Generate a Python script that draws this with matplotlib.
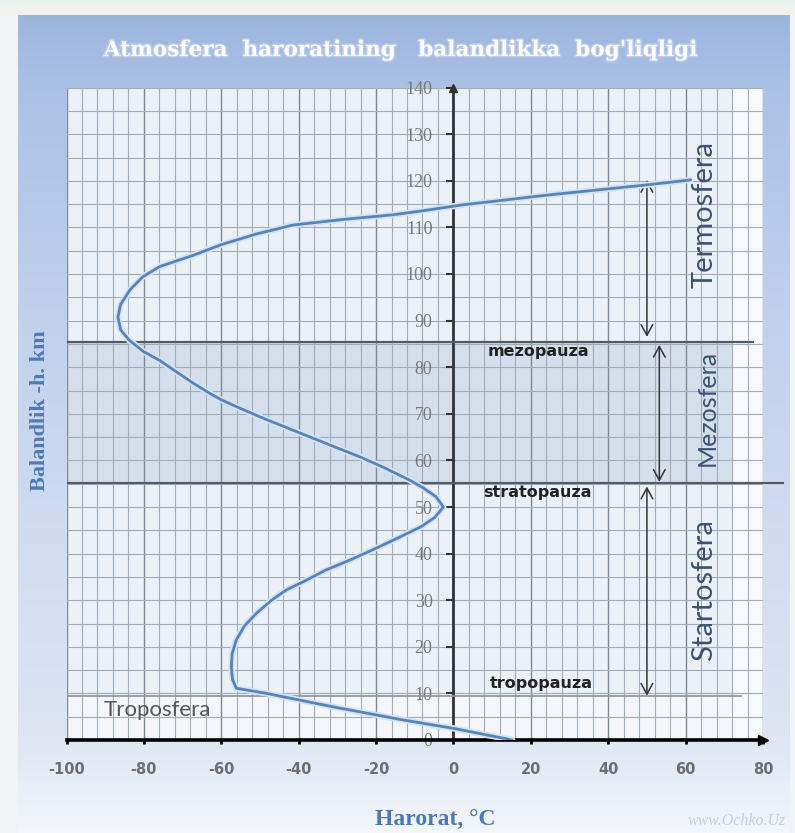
import numpy as np
import matplotlib.pyplot as plt
import matplotlib.patheffects as pe
from matplotlib.colors import LinearSegmentedColormap

plt.rcParams["axes.unicode_minus"] = False

# temperature (C) vs altitude (km)
altitude = [0, 2.5, 4.3, 7.1, 10, 11.1, 13, 15.7, 18.5, 21.5, 24.5, 27.2, 30, 32.2,
            34.3, 36.5, 38.6, 40.8, 43.5, 45.8, 47.8, 50, 52.2, 54.2, 55.8, 58.4,
            60.7, 62.9, 65, 67.2, 69, 71.2, 73, 74.4, 76.6, 79, 81.5, 83.3, 85.8,
            88, 90.8, 93.5, 96.6, 99.4, 101.6, 104, 106.3, 108.6, 110.5, 111.7,
            112.7, 113.5, 114.8, 117, 119.1, 120.2]
temperature = [15.2, 0, -13, -31, -48.3, -56.1, -57.1, -57.4, -57.2, -56.1, -54,
               -50.9, -47, -43.2, -38, -32.9, -26.8, -20.9, -14, -8.3, -4.8, -2.6,
               -4.5, -8, -11.4, -17.8, -24, -30.7, -37, -43.6, -49, -55.2, -60,
               -63, -67.3, -71.6, -76, -80, -83.8, -86, -86.7, -86, -83.6, -80.3,
               -75.9, -67.3, -60, -50.9, -41.5, -28.6, -15.7, -8.5, 2, 25, 49.7,
               61.3]

x_ticks = list(range(-100, 81, 20))
y_ticks = list(range(0, 141, 10))

# pause levels (km) and their labels
pause_names = ["mezopauza", "stratopauza", "tropopauza"]
pause_levels = [85.5, 55.2, 9.5]
pause_label_pos = [(22, 83.3), (21.7, 53.1), (22.8, 12.2)]

# layer names and the arrows that span them
layer_names = ["Termosfera", "Mezosfera", "Startosfera"]
layer_label_pos = [(64.8, 112.7), (65.6, 71.2), (64.8, 32.2)]
layer_sizes = [21, 18, 21]
layer_arrows = [(50, 86.5, 120.2), (53.2, 55.4, 84.8), (50, 9.5, 54.4)]

W, H = 795, 833
fig = plt.figure(figsize=(W / 100, H / 100), dpi=100, facecolor="#f1f4f7")

# background panel
bg = fig.add_axes([0, 0, 1, 1], zorder=-10)
bg.set_xlim(0, W)
bg.set_ylim(H, 0)
bg.axis("off")
panel_cmap = LinearSegmentedColormap.from_list(
    "panel", [(0, "#9cb5de"), (0.08, "#aac1e6"), (0.45, "#c5d5ee"),
              (0.88, "#dde5f3"), (0.95, "#eaeff7"), (1, "#f3f6fa")])
grad = np.linspace(0, 1, 256).reshape(-1, 1)
bg.imshow(grad, cmap=panel_cmap, extent=[18, 790, H, 15], aspect="auto")
bg.imshow(np.linspace(0, 1, 20).reshape(-1, 1),
          cmap=LinearSegmentedColormap.from_list("top", ["#eaf4f2", "#f4f2ea"]),
          extent=[0, W, 15, 0], aspect="auto")

bg.text(400, 50, "Atmosfera  haroratining   balandlikka  bog'liqligi",
        ha="center", va="center", color="white", fontsize=15.5, fontweight="bold",
        family="DejaVu Serif",
        path_effects=[pe.withStroke(linewidth=2, foreground="#b9cbe8")])
bg.text(40, 411, "Balandlik -h. km", rotation=90, ha="center", va="center",
        color="#4d79b5", fontsize=16, fontweight="bold", family="Liberation Serif")
bg.text(435, 810, "Harorat, °C", ha="center", va="top", color="#4d79b5",
        fontsize=17, fontweight="bold", family="Liberation Serif")
bg.text(688, 821, "www.Ochko.Uz", ha="left", va="center", color="#c6d0e0",
        fontsize=11.5, style="italic", family="Liberation Serif")

# main chart
ax = fig.add_axes([66.5 / W, (H - 740) / H, (763 - 66.5) / W, (740 - 87.6) / H])
ax.set_xlim(-100, 80)
ax.set_ylim(0, 140)
ax.set_facecolor("#ecf1f8")

for s in ["top", "right"]:
    ax.spines[s].set_visible(False)
ax.spines["left"].set_position(("data", 0))
ax.spines["left"].set_color("#333333")
ax.spines["left"].set_linewidth(2)
ax.spines["bottom"].set_color("black")
ax.spines["bottom"].set_linewidth(2.6)

ax.axvspan(72, 80, color="#f7f9fc", zorder=0, lw=0)
ax.axhspan(0, pause_levels[2], xmax=172 / 180, color="#f4f6f9", zorder=0, lw=0)
ax.axhspan(pause_levels[1], pause_levels[0], xmax=172 / 180, color="#d5dfeb",
           zorder=0, lw=0)

ax.set_xticks(x_ticks, labels=[str(v) for v in x_ticks], fontweight="bold")
ax.set_xticks(np.arange(-100, 81, 4), minor=True)
ax.set_yticks(y_ticks, labels=[str(v) for v in y_ticks], family="Liberation Serif")
ax.set_yticks(np.arange(0, 141, 5), minor=True)
ax.grid(which="minor", color="#a3abb7", lw=0.8, zorder=1)
ax.grid(which="major", axis="x", color="#7f8793", lw=1.0, zorder=1)
ax.grid(which="major", axis="y", color="#a3abb7", lw=0.8, zorder=1)
ax.set_axisbelow(True)

ax.plot(1, 0, ">", color="black", ms=7, transform=ax.get_yaxis_transform(),
        clip_on=False)
ax.plot(0, 1, "^", color="#333333", ms=6, transform=ax.get_xaxis_transform(),
        clip_on=False)

ax.tick_params(which="minor", length=0)
ax.tick_params(axis="x", which="major", length=3, width=2, color="black", pad=13,
               labelsize=10.5, labelcolor="#6e6e6e")
ax.tick_params(axis="y", which="major", length=5, width=1.5, color="#333333",
               pad=10, labelsize=13, labelcolor="#7a7a7a")

# pause lines
ax.hlines(pause_levels[0], -100, 77.7, color="#555b63", lw=1.6, zorder=3)
ax.hlines(pause_levels[1], -100, 85.4, color="#555b63", lw=1.6, zorder=3,
          clip_on=False)
ax.hlines(pause_levels[2], -100, 74.6, color="#8a9099", lw=1.2, zorder=3)
for name, (tx, ty) in zip(pause_names, pause_label_pos):
    ax.text(tx, ty, name, ha="center", va="center", fontsize=11.5,
            fontweight="bold", color="#222222", zorder=5)

ax.text(-76.5, 6.4, "Troposfera", ha="center", va="center", fontsize=16,
        family="Lato", color="#555555", zorder=5)

for name, (tx, ty), fs in zip(layer_names, layer_label_pos, layer_sizes):
    ax.text(tx, ty, name, rotation=90, ha="center", va="center", fontsize=fs,
            family="Lato", color="#3b5275", zorder=5)
for xa, y0, y1 in layer_arrows:
    ax.annotate("", xy=(xa, y1), xytext=(xa, y0),
                arrowprops=dict(arrowstyle="<->,head_length=0.55,head_width=0.3",
                                color="#333333", lw=1.1, mutation_scale=14,
                                shrinkA=0, shrinkB=0), zorder=5)

# temperature profile
ax.plot(temperature, altitude, color="#5a83b5", lw=2.0, zorder=6,
        solid_capstyle="round", solid_joinstyle="round",
        path_effects=[pe.Stroke(linewidth=4.5, foreground="#d3e3f6"), pe.Normal()])

fig.savefig("out.png", dpi=100, facecolor=fig.get_facecolor())
